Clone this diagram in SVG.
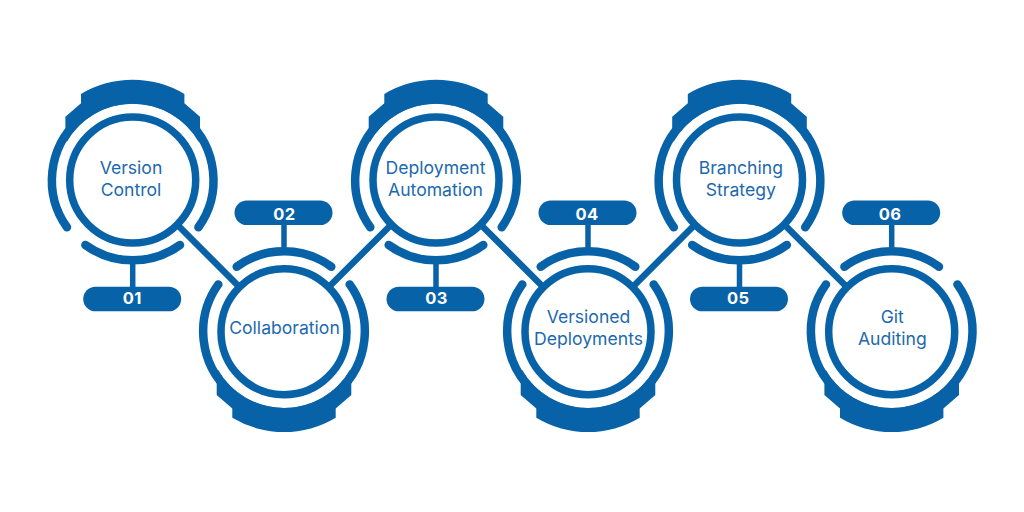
<svg xmlns="http://www.w3.org/2000/svg" width="1024" height="512" viewBox="0 0 1024 512">
<style>
.ln{fill:none;stroke:#0862a8;stroke-linecap:round}
.c{fill:none;stroke:#0862a8;stroke-width:6.5}
.t{font-family:Inter,"Open Sans",sans-serif;font-size:17.6px;fill:#1c69ae;text-anchor:middle}
.n{font-family:Inter,"Liberation Sans",sans-serif;font-size:16.5px;font-weight:700;letter-spacing:.4px;fill:#fff;text-anchor:middle}
</style>
<defs>
<g id="badge">
<circle r="63" fill="#fff" stroke="#0862a8" stroke-width="7.5"/>
<path class="ln" stroke-width="8.5" d="M-65.700 47.300A80.800 80.800 0 1 1 65.700 47.300"/>
<path class="ln" stroke-width="8.500" d="M-47.300 65A80.500 80.500 0 0 0 47.300 65"/>
<path fill="#0862a8" d="M-67.300 -50.700V-63.300L-51.700 -76.700V-86A100.300 100.300 0 0 1 51.700 -86V-76.700L67.300 -63.300V-50.700L66 -38A76 76 0 0 0 -66 -38Z"/>
<path d="M0 84V107" stroke="#0862a8" stroke-width="5.500" fill="none"/>
<rect x="-49.500" y="106.700" width="98" height="24.600" rx="12.300" fill="#0862a8"/>
</g>
</defs>
<g id="connectors">
<path class="c" d="M132.700 180L284 331.700L436 180L588 331.700L739.500 180L891.700 331.700"/>
</g>
<g id="node-1"><use href="#badge" transform="translate(132.700 180)"/><text class="t" x="131" y="173.500">Version</text><text class="t" x="131" y="195.500">Control</text><text class="n" x="132.300" y="304">01</text></g>
<g id="node-2"><use href="#badge" transform="translate(284 331.700) scale(1 -1)"/><text class="t" x="284.500" y="333.500">Collaboration</text><text class="n" x="284.500" y="219.500">02</text></g>
<g id="node-3"><use href="#badge" transform="translate(436 180)"/><text class="t" x="435.500" y="173.500">Deployment</text><text class="t" x="435.500" y="195.500">Automation</text><text class="n" x="436.500" y="304">03</text></g>
<g id="node-4"><use href="#badge" transform="translate(588 331.700) scale(1 -1)"/><text class="t" x="588.500" y="322.500">Versioned</text><text class="t" x="588.500" y="344.500">Deployments</text><text class="n" x="587" y="219.500">04</text></g>
<g id="node-5"><use href="#badge" transform="translate(739.500 180)"/><text class="t" x="740.800" y="173.500">Branching</text><text class="t" x="740.800" y="195.500">Strategy</text><text class="n" x="738.300" y="304">05</text></g>
<g id="node-6"><use href="#badge" transform="translate(891.700 331.700) scale(1 -1)"/><text class="t" x="892.300" y="322.500">Git</text><text class="t" x="892.300" y="344.500">Auditing</text><text class="n" x="890" y="219.500">06</text></g>
</svg>
